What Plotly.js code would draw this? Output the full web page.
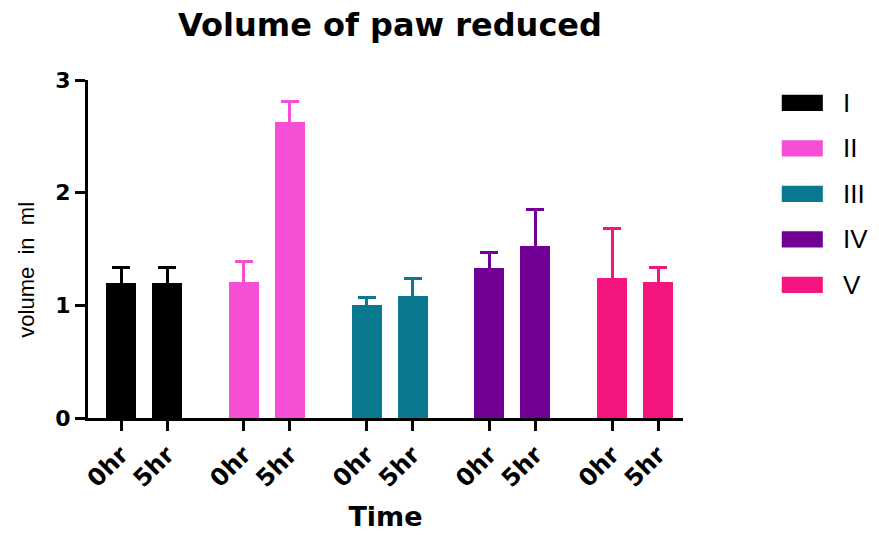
<!DOCTYPE html>
<html>
<head>
<meta charset="utf-8">
<script src="https://cdn.plot.ly/plotly-3.0.1.min.js"></script>
<style>html,body{margin:0;padding:0;background:#fff;}#chart{width:879px;height:535px;}</style>
</head>
<body>
<div id="chart"></div>
<script>
// ---- data ----
const groups = ['I', 'II', 'III', 'IV', 'V'];
const times = ['0hr', '5hr'];
const mean0hr = [1.20, 1.21, 1.00, 1.33, 1.24];
const mean5hr = [1.20, 2.63, 1.08, 1.53, 1.21];
const err0hr = [0.14, 0.18, 0.07, 0.14, 0.44];
const err5hr = [0.14, 0.18, 0.16, 0.32, 0.13];
const yTicks = [0, 1, 2, 3];

// ---- styles ----
const colors = ['#000000', '#F64FD6', '#08798F', '#730096', '#F5157E'];
const groupStep = 2.67;
const arial = '"Liberation Sans", Arial, sans-serif';
const heavy = '"DejaVu Sans", Arial, sans-serif';

const traces = [];
const tickvals = [], ticktext = [];
groups.forEach((g, i) => {
  const xs = times.map((t, j) => i * groupStep + j);
  xs.forEach((x, j) => { tickvals.push(x); ticktext.push(times[j]); });
  traces.push({
    type: 'bar',
    name: g,
    x: xs,
    y: [mean0hr[i], mean5hr[i]],
    width: 0.65,
    marker: { color: colors[i], line: { width: 0 } },
    error_y: {
      type: 'data', symmetric: true,
      array: [err0hr[i], err5hr[i]],
      color: colors[i], thickness: 3, width: 9
    },
    showlegend: false,
    hoverinfo: 'x+y'
  });
});

// custom legend (wide swatches) built from series names/colours
const shapes = [], annotations = [];
const legTop = 0.932, legStep = 0.1346, half = 0.024;
groups.forEach((g, i) => {
  const yc = legTop - i * legStep;
  shapes.push({
    type: 'rect', xref: 'paper', yref: 'paper',
    x0: 1.166, x1: 1.235, y0: yc - half, y1: yc + half,
    fillcolor: colors[i], line: { width: 0 }
  });
  annotations.push({
    xref: 'paper', yref: 'paper', x: 1.266, y: yc, xanchor: 'left', yanchor: 'middle',
    text: g, showarrow: false, font: { family: arial, size: 26, color: '#000' }
  });
});
// y axis title
annotations.push({
  xref: 'paper', yref: 'paper', x: -0.103, y: 0.438, xanchor: 'center', yanchor: 'middle',
  textangle: -90, text: 'volume&nbsp; in&nbsp; ml', showarrow: false,
  font: { family: arial, size: 22, color: '#000' }
});

const layout = {
  width: 879, height: 535,
  margin: { l: 88, r: 196, t: 80, b: 117 },
  paper_bgcolor: '#fff', plot_bgcolor: '#fff',
  title: {
    text: '<b>Volume of paw reduced</b>',
    font: { family: heavy, size: 32, color: '#000' },
    xref: 'container', x: 0.4437, xanchor: 'center',
    yref: 'container', y: 0.953, yanchor: 'middle'
  },
  xaxis: {
    range: [-0.72, 4 * groupStep + 1 + 0.54],
    tickvals: tickvals, ticktext: ticktext,
    tickangle: -45,
    tickfont: { family: heavy, size: 24, color: '#000', weight: 'bold' },
    ticks: 'outside', ticklen: 10, tickwidth: 3, tickcolor: '#000',
    showline: true, linecolor: '#000', linewidth: 3,
    showgrid: false, zeroline: false,
    title: { text: '<b>Time</b>', font: { family: heavy, size: 27, color: '#000' }, standoff: 16 }
  },
  yaxis: {
    range: [0, 3],
    tickvals: yTicks,
    tickfont: { family: heavy, size: 22, color: '#000', weight: 'bold' },
    ticks: 'outside', ticklen: 10, tickwidth: 3, tickcolor: '#000',
    showline: true, linecolor: '#000', linewidth: 3,
    showgrid: false, zeroline: false
  },
  shapes: shapes,
  annotations: annotations,
  bargap: 0
};

Plotly.newPlot('chart', traces, layout, { displayModeBar: false, staticPlot: true });
</script>
</body>
</html>
